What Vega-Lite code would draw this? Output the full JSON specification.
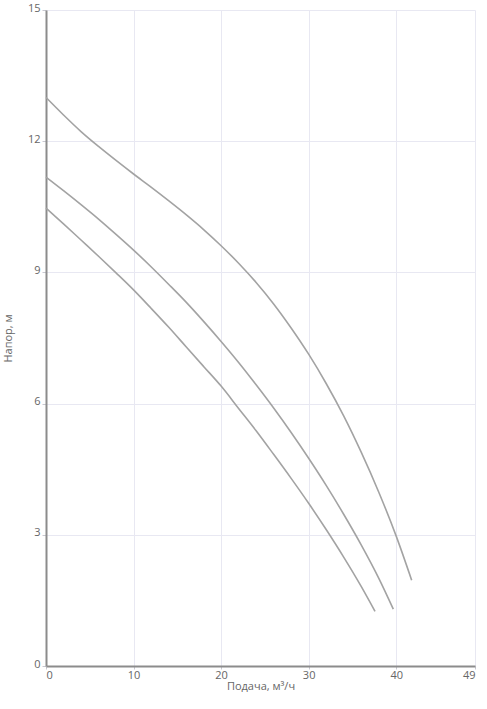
{
  "$schema": "https://vega.github.io/schema/vega-lite/v6.json",
  "width": 429,
  "height": 656,
  "autosize": {"type": "none"},
  "padding": {"left": 46, "top": 10, "right": 12, "bottom": 43},
  "background": "white",
  "config": {
    "view": {"stroke": null},
    "font": "Open Sans"
  },
  "data": {
    "values": [
      {"curve": "A", "q": 0, "h": 13.0},
      {"curve": "A", "q": 2, "h": 12.6},
      {"curve": "A", "q": 4, "h": 12.22},
      {"curve": "A", "q": 6, "h": 11.88},
      {"curve": "A", "q": 8, "h": 11.56},
      {"curve": "A", "q": 10, "h": 11.25},
      {"curve": "A", "q": 12, "h": 10.95},
      {"curve": "A", "q": 14, "h": 10.64},
      {"curve": "A", "q": 16, "h": 10.32},
      {"curve": "A", "q": 18, "h": 9.98},
      {"curve": "A", "q": 20, "h": 9.61},
      {"curve": "A", "q": 22, "h": 9.21},
      {"curve": "A", "q": 24, "h": 8.77},
      {"curve": "A", "q": 26, "h": 8.28},
      {"curve": "A", "q": 28, "h": 7.73},
      {"curve": "A", "q": 30, "h": 7.13},
      {"curve": "A", "q": 32, "h": 6.46},
      {"curve": "A", "q": 34, "h": 5.72},
      {"curve": "A", "q": 36, "h": 4.89},
      {"curve": "A", "q": 38, "h": 3.98},
      {"curve": "A", "q": 40, "h": 2.97},
      {"curve": "A", "q": 41.77, "h": 1.96},
      {"curve": "B", "q": 0, "h": 11.18},
      {"curve": "B", "q": 2, "h": 10.87},
      {"curve": "B", "q": 4, "h": 10.55},
      {"curve": "B", "q": 6, "h": 10.22},
      {"curve": "B", "q": 8, "h": 9.87},
      {"curve": "B", "q": 10, "h": 9.51},
      {"curve": "B", "q": 12, "h": 9.13},
      {"curve": "B", "q": 14, "h": 8.73},
      {"curve": "B", "q": 16, "h": 8.32},
      {"curve": "B", "q": 18, "h": 7.88},
      {"curve": "B", "q": 20, "h": 7.42},
      {"curve": "B", "q": 22, "h": 6.94},
      {"curve": "B", "q": 24, "h": 6.43},
      {"curve": "B", "q": 26, "h": 5.9},
      {"curve": "B", "q": 28, "h": 5.34},
      {"curve": "B", "q": 30, "h": 4.75},
      {"curve": "B", "q": 32, "h": 4.13},
      {"curve": "B", "q": 34, "h": 3.47},
      {"curve": "B", "q": 36, "h": 2.77},
      {"curve": "B", "q": 38, "h": 2.01},
      {"curve": "B", "q": 39.67, "h": 1.3},
      {"curve": "C", "q": 0, "h": 10.47},
      {"curve": "C", "q": 2, "h": 10.11},
      {"curve": "C", "q": 4, "h": 9.74},
      {"curve": "C", "q": 6, "h": 9.37},
      {"curve": "C", "q": 8, "h": 8.99},
      {"curve": "C", "q": 10, "h": 8.6},
      {"curve": "C", "q": 12, "h": 8.18},
      {"curve": "C", "q": 14, "h": 7.75},
      {"curve": "C", "q": 16, "h": 7.3},
      {"curve": "C", "q": 18, "h": 6.85},
      {"curve": "C", "q": 20, "h": 6.4},
      {"curve": "C", "q": 22, "h": 5.89},
      {"curve": "C", "q": 24, "h": 5.38},
      {"curve": "C", "q": 26, "h": 4.84},
      {"curve": "C", "q": 28, "h": 4.29},
      {"curve": "C", "q": 30, "h": 3.72},
      {"curve": "C", "q": 32, "h": 3.12},
      {"curve": "C", "q": 34, "h": 2.49},
      {"curve": "C", "q": 36, "h": 1.82},
      {"curve": "C", "q": 37.58, "h": 1.25}
    ]
  },
  "mark": {"type": "line", "interpolate": "monotone", "color": "#a3a3a3", "strokeWidth": 1.6},
  "encoding": {
    "x": {
      "field": "q",
      "type": "quantitative",
      "scale": {"domain": [0, 49], "nice": false, "zero": true},
      "axis": {
        "title": "Подача, м³/ч",
        "values": [0, 10, 20, 30, 40, 49],
        "format": "d",
        "domainColor": "#8c8c8c",
        "domainWidth": 2,
        "gridColor": "#e8e8f2",
        "gridWidth": 1,
        "tickColor": "#c8c8d0",
        "tickSize": 3,
        "labelColor": "#666666",
        "labelFontSize": 11,
        "labelPadding": 0,
        "titleColor": "#666666",
        "titleFontSize": 11,
        "titleFontWeight": "normal",
        "titlePadding": 0
      }
    },
    "y": {
      "field": "h",
      "type": "quantitative",
      "scale": {"domain": [0, 15], "nice": false},
      "axis": {
        "title": "Напор, м",
        "values": [0, 3, 6, 9, 12, 15],
        "domainColor": "#8c8c8c",
        "domainWidth": 2,
        "gridColor": "#e8e8f2",
        "gridWidth": 1,
        "tickColor": "#c8c8d0",
        "tickSize": 4,
        "labelColor": "#666666",
        "labelFontSize": 11,
        "labelPadding": 2,
        "labelOffset": -2,
        "titleColor": "#666666",
        "titleFontSize": 11,
        "titleFontWeight": "normal",
        "titlePadding": 14
      }
    },
    "detail": {"field": "curve", "type": "nominal"}
  }
}
